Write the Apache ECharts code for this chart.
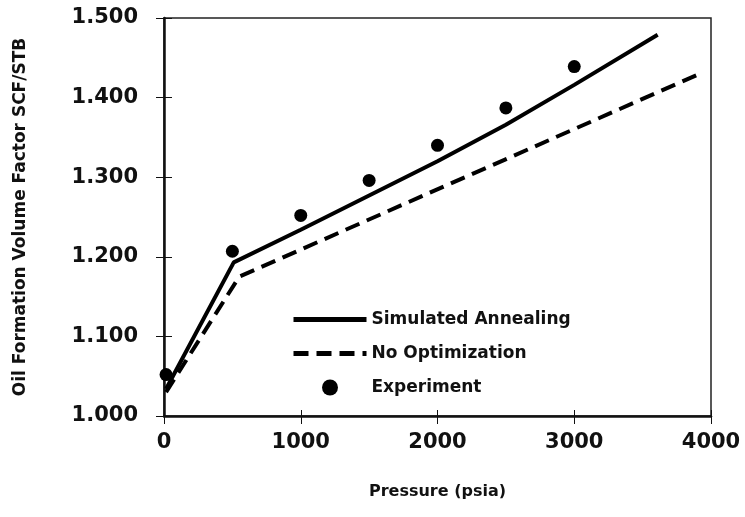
<!DOCTYPE html>
<html>
<head>
<meta charset="utf-8">
<script src="https://cdn.jsdelivr.net/npm/echarts@6/dist/echarts.min.js"></script>
<style>
html,body{margin:0;padding:0;background:#fff;}
#chart{width:745px;height:517px;}
</style>
</head>
<body>
<div id="chart"></div>
<script>
// Experiment
var expP = [15, 500, 1000, 1500, 2000, 2500, 3000];
var expB = [1.052, 1.207, 1.252, 1.296, 1.340, 1.387, 1.439];
// Simulated Annealing
var saP = [15, 510, 1000, 1500, 2000, 2500, 3000, 3610];
var saB = [1.034, 1.193, 1.234, 1.277, 1.320, 1.366, 1.416, 1.479];
// No Optimization
var noP = [15, 550, 3905];
var noB = [1.030, 1.175, 1.429];
var xTicks = [0, 1000, 2000, 3000, 4000];
var yTicks = [1.0, 1.1, 1.2, 1.3, 1.4, 1.5];

function pairs(a, b) { return a.map(function (v, i) { return [v, b[i]]; }); }

var FONT = 'DejaVu Sans';
var chart = echarts.init(document.getElementById('chart'), null, {renderer: 'canvas'});
var xBase = {
  type: 'value', min: xTicks[0], max: xTicks[xTicks.length - 1], interval: 1000,
  splitLine: {show: false}
};
var yBase = {
  type: 'value', min: yTicks[0], max: yTicks[yTicks.length - 1], interval: 0.1,
  splitLine: {show: false}
};
chart.setOption({
  backgroundColor: '#fff',
  animation: false,
  grid: {left: 164, right: 34, top: 18, bottom: 101, show: true, borderColor: '#222', borderWidth: 1.5, backgroundColor: 'transparent'},
  legend: {
    orient: 'vertical', left: 291, top: 311, padding: 0,
    itemWidth: 73, itemHeight: 16, itemGap: 17,
    textStyle: {fontFamily: FONT, fontWeight: 'bold', fontSize: 17, color: '#111'},
    data: [
      {name: 'Simulated Annealing', itemStyle: {opacity: 0}, lineStyle: {width: 5}},
      {name: 'No Optimization', itemStyle: {opacity: 0}, lineStyle: {width: 5}},
      {name: 'Experiment'}
    ]
  },
  xAxis: [
    Object.assign({}, xBase, {
      name: 'Pressure (psia)', nameLocation: 'middle', nameGap: 68,
      nameTextStyle: {fontFamily: FONT, fontWeight: 'bold', fontSize: 16, color: '#111'},
      axisLine: {lineStyle: {color: '#111', width: 2.5}},
      axisTick: {inside: false, length: 8, lineStyle: {color: '#111', width: 1}},
      axisLabel: {fontFamily: FONT, fontWeight: 'bold', fontSize: 21, color: '#111', margin: 16,
        formatter: function (v) { return String(v); }}
    }),
    Object.assign({}, xBase, {
      position: 'bottom',
      axisLine: {show: false},
      axisTick: {inside: true, length: 6, lineStyle: {color: '#111', width: 1}},
      axisLabel: {show: false}
    })
  ],
  yAxis: [
    Object.assign({}, yBase, {
      name: 'Oil Formation Volume Factor SCF/STB', nameLocation: 'middle', nameGap: 135,
      nameTextStyle: {fontFamily: FONT, fontWeight: 'bold', fontSize: 17, color: '#111'},
      axisLine: {lineStyle: {color: '#111', width: 2.5}},
      axisTick: {inside: false, length: 8, lineStyle: {color: '#111', width: 1}},
      axisLabel: {fontFamily: FONT, fontWeight: 'bold', fontSize: 21, color: '#111', margin: 26,
        formatter: function (v) { return v.toFixed(3); }}
    }),
    Object.assign({}, yBase, {
      position: 'left',
      axisLine: {show: false},
      axisTick: {inside: true, length: 8, lineStyle: {color: '#111', width: 1}},
      axisLabel: {show: false}
    })
  ],
  series: [
    {
      name: 'Simulated Annealing', type: 'line', symbol: 'none',
      data: pairs(saP, saB),
      lineStyle: {color: '#000', width: 4},
      itemStyle: {color: '#000'}
    },
    {
      name: 'No Optimization', type: 'line', symbol: 'none',
      data: pairs(noP, noB),
      lineStyle: {color: '#000', width: 4, type: [15, 8]},
      itemStyle: {color: '#000'}
    },
    {
      name: 'Experiment', type: 'scatter', symbol: 'circle', symbolSize: 13,
      data: pairs(expP, expB),
      itemStyle: {color: '#000', opacity: 1}
    }
  ]
});
</script>
</body>
</html>
